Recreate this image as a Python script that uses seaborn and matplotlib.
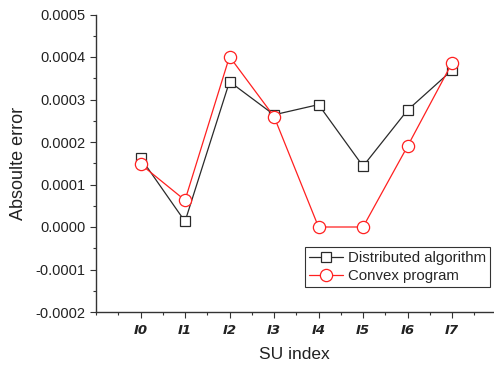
import numpy as np
import pandas as pd
import matplotlib
matplotlib.use("Agg")
import matplotlib.pyplot as plt
import seaborn as sns
from matplotlib.ticker import MultipleLocator

categories = ["I0", "I1", "I2", "I3", "I4", "I5", "I6", "I7"]
distributed = [0.000163, 0.000013, 0.000342, 0.000264, 0.000288, 0.000143, 0.000275, 0.000369]
convex = [0.000148, 0.000063, 0.000401, 0.000260, 0.0, 0.0, 0.000190, 0.000386]
yticks = [-0.0002, -0.0001, 0.0, 0.0001, 0.0002, 0.0003, 0.0004, 0.0005]
ytick_labels = ["-0.0002", "-0.0001", "0.0000", "0.0001", "0.0002", "0.0003", "0.0004", "0.0005"]

sns.set_theme(style="ticks")
plt.rcParams['font.family'] = ['Liberation Sans', 'DejaVu Sans']

idx = np.arange(len(categories))
df = pd.DataFrame({
    "x": np.concatenate([idx, idx]),
    "y": distributed + convex,
    "series": ["Distributed algorithm"] * len(idx) + ["Convex program"] * len(idx),
})

fig = plt.figure(figsize=(4.94, 3.66), dpi=100)
ax = fig.add_axes([96 / 494, 54 / 366, (493 - 96) / 494, (312 - 14.5) / 366])

sizes = [7.2, 8.8]
colors = ["#2a2a2a", "#ff2020"]

sns.lineplot(data=df, x="x", y="y", hue="series", style="series",
             palette={"Distributed algorithm": colors[0], "Convex program": colors[1]},
             markers={"Distributed algorithm": "s", "Convex program": "o"},
             dashes=False, ax=ax, linewidth=0.9, markersize=7,
             markerfacecolor="white", markeredgewidth=0.9)

for line, ec, ms in zip(ax.lines, colors, sizes):
    line.set_markeredgecolor(ec)
    line.set_markerfacecolor("white")
    line.set_markersize(ms)

ax.set_xlim(-1, 7.92)
ax.set_ylim(-0.0002, 0.0005)
ax.set_xticks(idx)
ax.set_xticklabels(categories, fontstyle="italic", fontweight="bold",
                   family=["Liberation Sans Narrow", "DejaVu Sans"], fontsize=9.5)
ax.xaxis.set_minor_locator(MultipleLocator(0.5))
ax.set_yticks(yticks)
ax.set_yticklabels(ytick_labels, fontsize=10.5)
ax.yaxis.set_minor_locator(MultipleLocator(0.00005))

ax.tick_params(axis="both", which="major", direction="out", length=4, width=0.8, colors="#333333")
ax.tick_params(axis="both", which="minor", direction="out", length=2, width=0.8, colors="#333333")
ax.tick_params(axis="x", which="major", pad=5)
ax.tick_params(axis="both", labelcolor="#222222")

for side in ["top", "right"]:
    ax.spines[side].set_visible(False)
for side in ["left", "bottom"]:
    ax.spines[side].set_color("#333333")
    ax.spines[side].set_linewidth(1.0)

ax.set_xlabel("SU index", fontsize=12.5, color="#222222", labelpad=7)
ax.set_ylabel("Absoulte error", fontsize=13, color="#222222", labelpad=6)

handles, labels = ax.get_legend_handles_labels()
for h, ec, ms in zip(handles, colors, sizes):
    h.set_markerfacecolor("white")
    h.set_markeredgecolor(ec)
    h.set_markersize(ms)
leg = ax.legend(handles, labels, loc="lower right", bbox_to_anchor=(0.992, 0.084),
                fontsize=10.8, frameon=True, fancybox=False, edgecolor="black",
                borderpad=0.25, handlelength=2.3, labelspacing=0.3, handletextpad=0.3,
                borderaxespad=0)
leg.get_frame().set_linewidth(0.8)

fig.savefig("out.png", dpi=100)
